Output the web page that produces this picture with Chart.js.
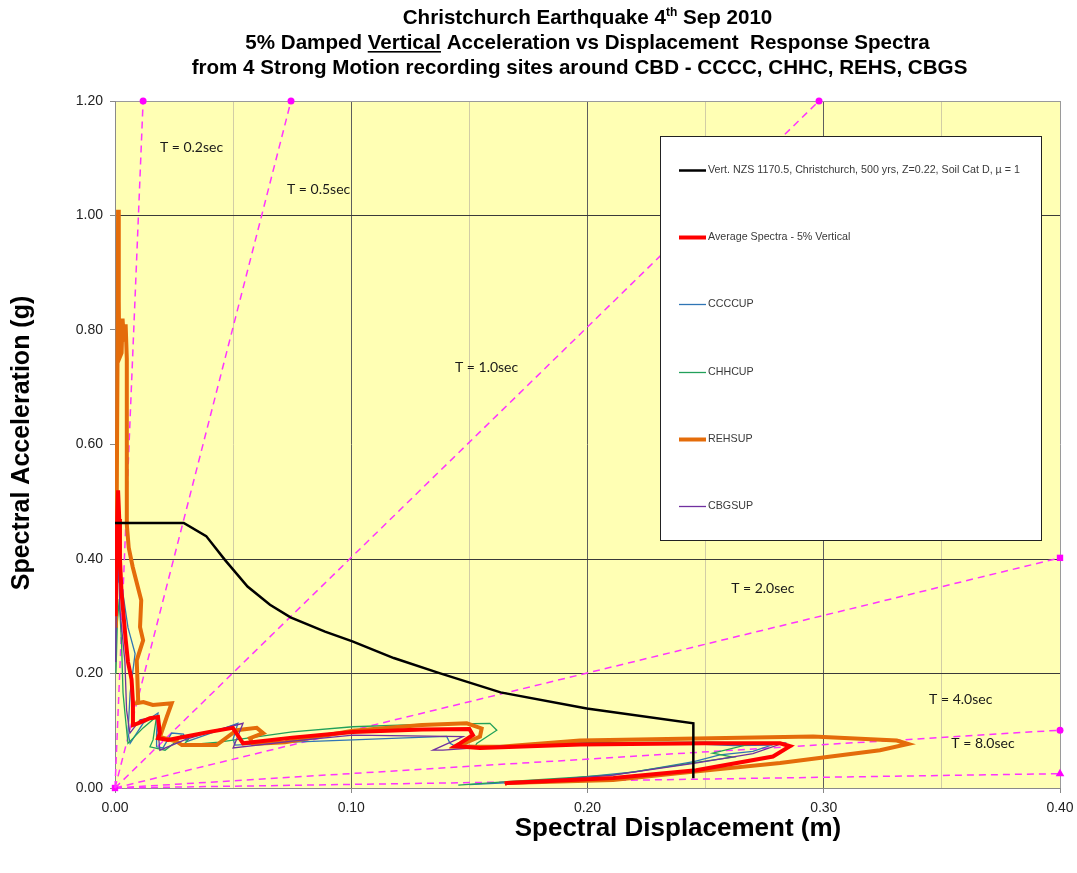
<!DOCTYPE html>
<html>
<head>
<meta charset="utf-8">
<title>Christchurch Earthquake 4th Sep 2010 - Vertical ADRS</title>
<script src="https://cdn.jsdelivr.net/npm/chart.js@4.4.1/dist/chart.umd.min.js"></script>
<style>
  html, body { margin:0; padding:0; background:#fff; }
  canvas { display:block; }
</style>
</head>
<body>
<canvas id="adrsChart" width="1077" height="873"></canvas>
<script>

/* DATA - spectral displacement (m), spectral acceleration (g) */

const nzsVertical = [
    [0, 0.463], [0.0291, 0.463], [0.0386, 0.440], [0.0466, 0.398], [0.0561, 0.352],
    [0.0656, 0.320], [0.0743, 0.298], [0.0889, 0.273], [0.1005, 0.256], [0.118, 0.227],
    [0.137, 0.201], [0.1632, 0.167], [0.1997, 0.139], [0.2448, 0.113], [0.2448, 0.017]
];

const averageSpectra = [
    [0.0003, 0.30], [0.0006, 0.40], [0.0010, 0.48], [0.0013, 0.52], [0.0018, 0.47], [0.0021, 0.40],
    [0.0028, 0.34], [0.0045, 0.26], [0.0055, 0.22], [0.0070, 0.19], [0.0076, 0.15], [0.0076, 0.11],
    [0.0097, 0.113], [0.0148, 0.122], [0.0182, 0.124], [0.0190, 0.096], [0.0182, 0.087], [0.0224, 0.084],
    [0.0300, 0.090], [0.0400, 0.098], [0.0499, 0.105], [0.0542, 0.078], [0.0750, 0.088], [0.1007, 0.098],
    [0.1300, 0.102], [0.1500, 0.103], [0.1515, 0.0925], [0.1460, 0.078], [0.1440, 0.073], [0.1545, 0.070],
    [0.1970, 0.076], [0.2500, 0.078], [0.2815, 0.078], [0.2857, 0.073], [0.2785, 0.055], [0.2460, 0.031],
    [0.2110, 0.0175], [0.1660, 0.0087], [0.1650, 0.008]
];

const ccccUp = [
    [0.0004, 0.22], [0.0007, 0.33], [0.0010, 0.40], [0.0016, 0.36], [0.0030, 0.35], [0.0055, 0.28],
    [0.0085, 0.235], [0.0064, 0.166], [0.0055, 0.096], [0.0064, 0.078], [0.0119, 0.113], [0.0182, 0.131],
    [0.0176, 0.096], [0.0176, 0.072], [0.0203, 0.070], [0.0240, 0.096], [0.0290, 0.094], [0.0303, 0.081],
    [0.0400, 0.095], [0.0520, 0.113], [0.0500, 0.085], [0.0508, 0.075], [0.0750, 0.080], [0.1007, 0.084],
    [0.1200, 0.087], [0.1404, 0.090], [0.1418, 0.078], [0.1432, 0.075], [0.1630, 0.073], [0.2000, 0.076],
    [0.2450, 0.077], [0.2620, 0.074], [0.2780, 0.075], [0.2700, 0.064], [0.2560, 0.058], [0.2450, 0.046],
    [0.2200, 0.028], [0.1900, 0.016], [0.1650, 0.009], [0.1500, 0.006]
];

const chhcUp = [
    [0.0004, 0.20], [0.0010, 0.29], [0.0018, 0.33], [0.0028, 0.25], [0.0034, 0.166], [0.0042, 0.131],
    [0.0055, 0.078], [0.0119, 0.105], [0.0176, 0.125], [0.0161, 0.084], [0.0148, 0.072], [0.0212, 0.066],
    [0.0255, 0.080], [0.0280, 0.092], [0.0310, 0.085], [0.0290, 0.075], [0.0440, 0.080], [0.0750, 0.098],
    [0.1007, 0.107], [0.1300, 0.111], [0.1587, 0.113], [0.1616, 0.101], [0.1531, 0.078], [0.1524, 0.072],
    [0.2000, 0.079], [0.2500, 0.080], [0.2700, 0.078], [0.2530, 0.061], [0.2616, 0.054], [0.2447, 0.044],
    [0.2110, 0.023], [0.1660, 0.011], [0.1453, 0.005]
];

const rehsUp = [
    [0.0004, 0.28], [0.0008, 0.55], [0.0012, 0.85], [0.0013, 1.01], [0.0016, 0.85], [0.0018, 0.75],
    [0.0028, 0.76], [0.0032, 0.82], [0.0038, 0.78], [0.0045, 0.81], [0.0050, 0.75], [0.0050, 0.46],
    [0.0058, 0.42], [0.0075, 0.386], [0.0111, 0.328], [0.0106, 0.281], [0.0119, 0.258], [0.0092, 0.223],
    [0.0098, 0.154], [0.0092, 0.148], [0.0120, 0.150], [0.0160, 0.145], [0.0240, 0.148], [0.0219, 0.124],
    [0.0190, 0.089], [0.0262, 0.081], [0.0283, 0.075], [0.0430, 0.075], [0.0515, 0.101], [0.0600, 0.105],
    [0.0627, 0.096], [0.0571, 0.087], [0.0584, 0.077], [0.0720, 0.080], [0.1007, 0.100], [0.1300, 0.110],
    [0.1489, 0.113], [0.1552, 0.104], [0.1545, 0.090], [0.1460, 0.075], [0.1446, 0.072], [0.1630, 0.072],
    [0.1968, 0.083], [0.2955, 0.090], [0.3309, 0.083], [0.3357, 0.077], [0.3238, 0.066], [0.2815, 0.0437],
    [0.2392, 0.026], [0.2108, 0.014], [0.1658, 0.0087], [0.1650, 0.007]
];

const cbgsUp = [
    [0.0003, 0.22], [0.0006, 0.35], [0.0010, 0.42], [0.0016, 0.38], [0.0021, 0.31], [0.0042, 0.22],
    [0.0049, 0.136], [0.0063, 0.096], [0.0106, 0.119], [0.0176, 0.125], [0.0190, 0.066], [0.0300, 0.085],
    [0.0420, 0.100], [0.0542, 0.113], [0.0500, 0.070], [0.0750, 0.082], [0.1007, 0.0925], [0.1473, 0.0896],
    [0.1346, 0.066], [0.1388, 0.066], [0.1630, 0.073], [0.2000, 0.076], [0.2500, 0.077], [0.2830, 0.0786],
    [0.2700, 0.060], [0.2450, 0.043], [0.2100, 0.022], [0.1700, 0.010], [0.1650, 0.008]
];

/* constant period lines, drawn from the origin */
const periodNames = ["T = 0.2sec", "T = 0.5sec", "T = 1.0sec", "T = 2.0sec", "T = 4.0sec", "T = 8.0sec"];
const periodEndSd = [0.0119, 0.0745, 0.298, 0.40, 0.40, 0.40];
const periodEndSa = [1.20, 1.20, 1.20, 0.402, 0.101, 0.025];
const periodLabelSd = [0.0190, 0.0728, 0.1439, 0.2608, 0.3446, 0.3540];
const periodLabelSa = [1.118, 1.045, 0.735, 0.348, 0.155, 0.077];
const periodMarkers = ["circle", "circle", "circle", "rect", "circle", "triangle"];

const xTicks = [0, 0.1, 0.2, 0.3, 0.4];
const yTicks = [0, 0.2, 0.4, 0.6, 0.8, 1.0, 1.2];
const yGridValues = [0.2, 0.4, 1.0];

const FONT = '"Liberation Sans", Arial, sans-serif';

function toPoints(pairs){
    return pairs.map(p => ({ x: p[0], y: p[1] }));
}

function nearly(a, b){
    return Math.abs(a - b) < 1e-6;
}

/* SERIES */

const spectraSeries = [
    { label: "Vert. NZS 1170.5, Christchurch, 500 yrs, Z=0.22, Soil Cat D, \u00b5 = 1", data: nzsVertical, color: "#000000", width: 2.5, order: 0 },
    { label: "Average Spectra - 5% Vertical", data: averageSpectra, color: "#ff0000", width: 4, order: 1 },
    { label: "CCCCUP", data: ccccUp, color: "#2f75b5", width: 1.3, order: 5 },
    { label: "CHHCUP", data: chhcUp, color: "#22a05a", width: 1.3, order: 4 },
    { label: "REHSUP", data: rehsUp, color: "#e46c0a", width: 4, order: 3 },
    { label: "CBGSUP", data: cbgsUp, color: "#7030a0", width: 1.3, order: 2 }
];

const datasets = spectraSeries.map(s => ({
    label: s.label,
    data: toPoints(s.data),
    showLine: true,
    borderColor: s.color,
    backgroundColor: s.color,
    borderWidth: s.width,
    pointRadius: 0,
    order: s.order,
    inLegend: true
}));

periodNames.forEach((name, i) => {
    const style = periodMarkers[i];
    let radius = [0, 3.5];
    if(style === "rect") radius = [4.5, 4.5];
    if(style === "triangle") radius = [0, 5];
    datasets.push({
        label: name,
        data: [{ x: 0, y: 0 }, { x: periodEndSd[i], y: periodEndSa[i] }],
        showLine: true,
        borderColor: "#ff33ff",
        backgroundColor: "#ff00ff",
        borderWidth: 1.5,
        borderDash: [7, 5],
        pointStyle: style,
        pointRadius: radius,
        pointBorderWidth: 0,
        order: 10,
        clip: false,
        inLegend: false
    });
});

/* PLUGINS */

const plotBackground = {
    id: "plotBackground",
    beforeDraw(chart){
        const { ctx, chartArea: a } = chart;
        ctx.save();
        ctx.fillStyle = "#ffffff";
        ctx.fillRect(0, 0, chart.width, chart.height);
        ctx.fillStyle = "#ffffb4";
        ctx.fillRect(a.left, a.top, a.right - a.left, a.bottom - a.top);
        ctx.restore();
    }
};

function drawRuns(ctx, cx, baseline, runs){
    let total = 0;
    runs.forEach(r => {
        ctx.font = r.font;
        r.w = ctx.measureText(r.text).width;
        total += r.w;
    });
    let x = cx - total / 2;
    runs.forEach(r => {
        ctx.font = r.font;
        ctx.fillText(r.text, x, baseline - (r.rise || 0));
        if(r.underline){
            ctx.fillRect(x, baseline + 2, r.w, 1.6);
        }
        x += r.w;
    });
}

const chartTexts = {
    id: "chartTexts",
    afterDatasetsDraw(chart){
        const { ctx, scales } = chart;
        const xs = scales.x, ys = scales.y;

        ctx.save();

        // period labels
        ctx.fillStyle = "#1a1a1a";
        ctx.font = '14px Lato, ' + FONT;
        ctx.textAlign = "left";
        ctx.textBaseline = "middle";
        periodNames.forEach((name, i) => {
            ctx.fillText(name, xs.getPixelForValue(periodLabelSd[i]), ys.getPixelForValue(periodLabelSa[i]));
        });

        // legend box
        const box = { left: 660, top: 136, right: 1041, bottom: 540 };
        ctx.fillStyle = "#ffffff";
        ctx.fillRect(box.left, box.top, box.right - box.left, box.bottom - box.top);
        ctx.strokeStyle = "#222222";
        ctx.lineWidth = 1;
        ctx.strokeRect(box.left + 0.5, box.top + 0.5, box.right - box.left, box.bottom - box.top);

        const items = chart.data.datasets.filter(d => d.inLegend);
        const step = (box.bottom - box.top) / items.length;
        ctx.font = '10.7px ' + FONT;
        items.forEach((d, i) => {
            const y = Math.round(box.top + step * (i + 0.5)) + 0.5;
            ctx.strokeStyle = d.borderColor;
            ctx.lineWidth = d.borderWidth;
            ctx.beginPath();
            ctx.moveTo(679, y);
            ctx.lineTo(706, y);
            ctx.stroke();
            ctx.fillStyle = "#3a3a3a";
            ctx.fillText(d.label, 708, y);
        });

        ctx.restore();
    },
    afterDraw(chart){
        const { ctx, chartArea: a } = chart;
        const cx = (a.left + a.right) / 2;
        const big = 'bold 20.6px ' + FONT;

        ctx.save();
        ctx.fillStyle = "#000000";
        ctx.textAlign = "left";
        ctx.textBaseline = "alphabetic";

        drawRuns(ctx, cx, 24, [
            { text: "Christchurch Earthquake 4", font: big },
            { text: "th", font: 'bold 12px ' + FONT, rise: 8 },
            { text: " Sep 2010", font: big }
        ]);
        drawRuns(ctx, cx, 49, [
            { text: "5% Damped ", font: big },
            { text: "Vertical", font: big, underline: true },
            { text: " Acceleration vs Displacement  Response Spectra", font: big }
        ]);
        drawRuns(ctx, cx - 8, 74, [
            { text: "from 4 Strong Motion recording sites around CBD - CCCC, CHHC, REHS, CBGS", font: big }
        ]);

        // axis titles
        ctx.font = 'bold 26px ' + FONT;
        ctx.textAlign = "center";
        ctx.textBaseline = "middle";
        ctx.fillText("Spectral Displacement (m)", 678, 829);

        ctx.font = 'bold 25px ' + FONT;
        ctx.translate(22, 443);
        ctx.rotate(-Math.PI / 2);
        ctx.fillText("Spectral Acceleration (g)", 0, 0);

        ctx.restore();
    }
};

/* CHART */

const isMajorX = v => xTicks.some(t => nearly(t, v));

new Chart(document.getElementById("adrsChart"), {
    type: "scatter",
    data: { datasets },
    options: {
        responsive: false,
        animation: false,
        devicePixelRatio: 1,
        layout: { padding: { top: 101, right: 17, left: 0, bottom: 0 } },
        elements: { line: { tension: 0 } },
        plugins: {
            legend: { display: false },
            tooltip: { enabled: false },
            title: { display: false }
        },
        scales: {
            x: {
                type: "linear",
                min: 0,
                max: 0.4,
                afterFit(s){
                    s.height = 85;
                    // let the end labels overhang instead of shrinking the plot
                    s.paddingLeft = 0;
                    s.paddingRight = 0;
                },
                afterBuildTicks(s){
                    s.ticks = [0, 0.05, 0.1, 0.15, 0.2, 0.25, 0.3, 0.35, 0.4].map(v => ({ value: v }));
                },
                ticks: {
                    autoSkip: false,
                    maxRotation: 0,
                    padding: 7,
                    color: "#222222",
                    font: { family: FONT, size: 14 },
                    callback: v => isMajorX(v) ? v.toFixed(2) : ""
                },
                grid: {
                    tickLength: 5,
                    lineWidth: 1,
                    color: c => {
                        const v = c.tick.value;
                        if(nearly(v, 0.4)) return "#9a9a9a";
                        return isMajorX(v) ? "#5e5e5e" : "#d2cda6";
                    },
                    tickColor: c => isMajorX(c.tick.value) ? "#888888" : "rgba(0,0,0,0)"
                },
                border: { color: "#8a8a8a", width: 1 }
            },
            y: {
                type: "linear",
                min: 0,
                max: 1.2,
                afterFit(s){
                    s.width = 115;
                    s.paddingTop = 0;
                    s.paddingBottom = 0;
                },
                afterBuildTicks(s){
                    s.ticks = yTicks.map(v => ({ value: v }));
                },
                ticks: {
                    padding: 7,
                    color: "#222222",
                    font: { family: FONT, size: 14 },
                    callback: v => v.toFixed(2)
                },
                grid: {
                    tickLength: 5,
                    lineWidth: 1,
                    color: c => {
                        const v = c.tick.value;
                        if(nearly(v, 1.2)) return "#9a9a9a";
                        return yGridValues.some(g => nearly(g, v)) ? "#3a3a3a" : "rgba(0,0,0,0)";
                    },
                    tickColor: "#888888"
                },
                border: { color: "#8a8a8a", width: 1 }
            }
        }
    },
    plugins: [plotBackground, chartTexts]
});

</script>
</body>
</html>
